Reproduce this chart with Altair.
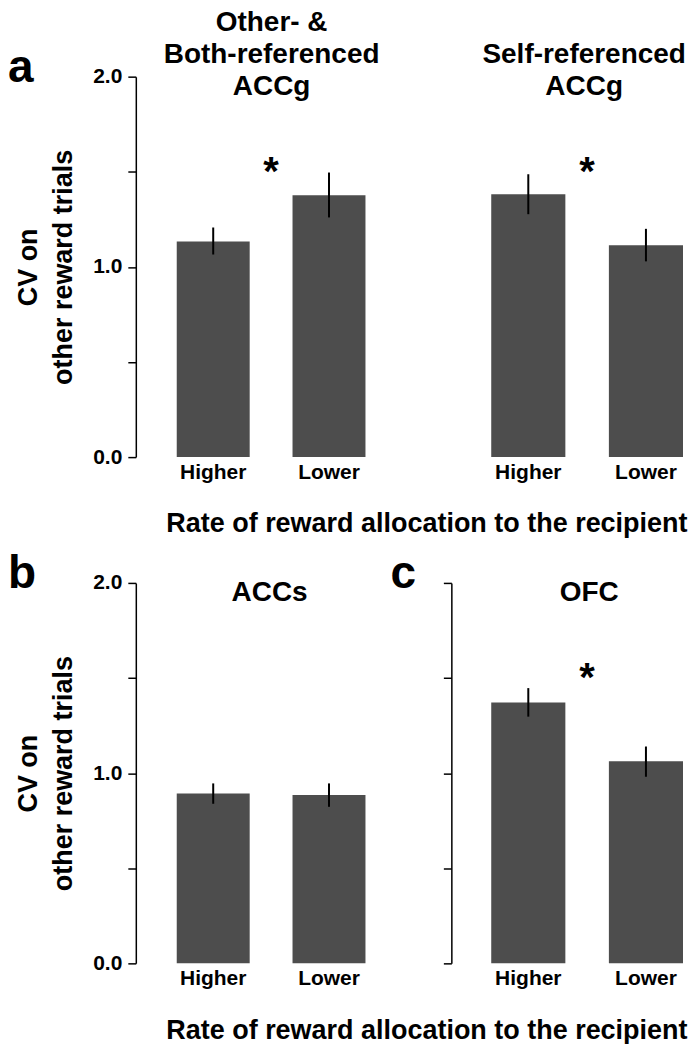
import altair as alt
import pandas as pd

# ---------------- data ----------------
categories = ["Higher", "Lower"]

title_a1 = ["Other- &", "Both-referenced", "ACCg"]
mean_a1 = [1.134, 1.377]
lo_a1 = [1.065, 1.260]
hi_a1 = [1.207, 1.496]

title_a2 = ["Self-referenced", "ACCg"]
mean_a2 = [1.382, 1.114]
lo_a2 = [1.277, 1.029]
hi_a2 = [1.487, 1.200]

title_b = ["ACCs"]
mean_b = [0.893, 0.885]
lo_b = [0.839, 0.823]
hi_b = [0.946, 0.946]

title_c = ["OFC"]
mean_c = [1.371, 1.062]
lo_c = [1.297, 0.981]
hi_c = [1.447, 1.140]

star_level = [1.55]
y_ticks = [0, 0.5, 1.0, 1.5, 2.0]
y_title = ["CV on", "other reward trials"]
x_title = "Rate of reward allocation to the recipient"

# ---------------- style ----------------
FONT = "Liberation Sans"
BAR = "#4d4d4d"
H = 381
P_INNER = 0.37
TITLE_LH = 32


def y_axis(mode):
    common = dict(values=y_ticks, tickSize=8, tickColor="black", tickWidth=1.5,
                  domainColor="black", domainWidth=1.5, grid=False)
    if mode == "full":
        return alt.Axis(labelExpr="datum.value % 1 === 0 ? format(datum.value, '.1f') : ''",
                        labelFont=FONT, labelFontSize=21, labelFontWeight="bold",
                        labelColor="black", labelPadding=6, labelOverlap=False,
                        title=y_title, titleFont=FONT, titleFontSize=27,
                        titleFontWeight="bold", titleColor="black", titleAngle=270,
                        titleAlign="center", titleBaseline="alphabetic",
                        titleLineHeight=35, titleX=-99, titleY=H / 2, **common)
    return alt.Axis(labels=False, title=None, **common)


def x_axis(with_title):
    kw = dict(labelFont=FONT, labelFontSize=21, labelFontWeight="bold", labelColor="black",
              labelPadding=4, labelAngle=0, ticks=False, domain=False, grid=False)
    if with_title:
        kw.update(title=x_title, titleFont=FONT, titleFontSize=27, titleFontWeight="bold",
                  titleColor="black", titleX=291, titleY=75, titleAlign="center",
                  titleBaseline="alphabetic")
    else:
        kw.update(title=None)
    return alt.Axis(**kw)


def panel(mean, lo, hi, title, title_x, width, p_outer, p_align, ymode,
          letter=None, letter_x=0, star=False, with_xtitle=False):
    df = pd.DataFrame({"cat": categories, "mean": mean, "lo": lo, "hi": hi})
    xs = alt.Scale(domain=categories, paddingInner=P_INNER, paddingOuter=p_outer, align=p_align)
    ys = alt.Scale(domain=[0, 2], nice=False)
    yax = y_axis(ymode) if ymode != "none" else None
    xax = x_axis(with_xtitle)
    xenc = alt.X("cat:N", scale=xs, axis=xax, sort=categories)

    def yenc(field):
        if yax is None:
            return alt.Y(field, type="quantitative", scale=ys, axis=None)
        return alt.Y(field, type="quantitative", scale=ys, axis=yax)

    bars = alt.Chart(df).mark_bar(color=BAR).encode(x=xenc, y=yenc("mean"))
    errs = alt.Chart(df).mark_rule(color="black", strokeWidth=2).encode(
        x=xenc, y=yenc("lo"), y2="hi:Q")
    layers = [bars, errs]

    # midpoint between the two bars, from the band-scale parameters
    step = width / (2 - P_INNER + 2 * p_outer)
    off = (width - step * (2 - P_INNER)) * p_align
    mid = off + step * (1 - P_INNER) / 2 + step / 2

    one = pd.DataFrame({"k": [0]})
    # panel title: last line's baseline sits 18 px below the plot top
    first_baseline = 18 - (len(title) - 1) * TITLE_LH
    layers.append(alt.Chart(one).mark_text(
        text=title, font=FONT, fontSize=28, fontWeight="bold", color="black",
        align="center", baseline="alphabetic", lineHeight=TITLE_LH).encode(
        x=alt.value(title_x), y=alt.value(first_baseline)))

    if star:
        sdf = pd.DataFrame({"s": star_level})
        layers.append(alt.Chart(sdf).mark_text(text="*", font=FONT, fontSize=40,
                                                fontWeight="bold", color="black",
                                                baseline="alphabetic", dy=23).encode(
            x=alt.value(mid), y=yenc("s")))
    if letter:
        ldf = pd.DataFrame({"t": [letter]})
        layers.append(alt.Chart(ldf).mark_text(font=FONT, fontSize=46, fontWeight="bold",
                                                color="black", align="left",
                                                baseline="alphabetic").encode(
            text="t:N", x=alt.value(letter_x), y=alt.value(5)))

    return alt.layer(*layers).properties(width=width, height=H)


a1 = panel(mean_a1, lo_a1, hi_a1, title_a1, 136, 250, 0.263, 0.672, "full",
           letter="a", letter_x=-128, star=True, with_xtitle=True)
a2 = panel(mean_a2, lo_a2, hi_a2, title_a2, 133, 240, 0.2035, 0.833, "none", star=True)
b = panel(mean_b, lo_b, hi_b, title_b, 134, 250, 0.263, 0.672, "full",
          letter="b", letter_x=-128, with_xtitle=True)
c = panel(mean_c, lo_c, hi_c, title_c, 138, 240, 0.2035, 0.833, "ticks",
          letter="c", letter_x=-61, star=True)

chart = alt.concat(a1, a2, b, c, columns=2, spacing={"row": 126, "column": 66},
                   bounds="flush").resolve_scale(
    x="independent", y="independent").configure_view(strokeWidth=0).properties(padding=0)

chart.save("out.html", embed_options={"renderer": "svg", "actions": False})
